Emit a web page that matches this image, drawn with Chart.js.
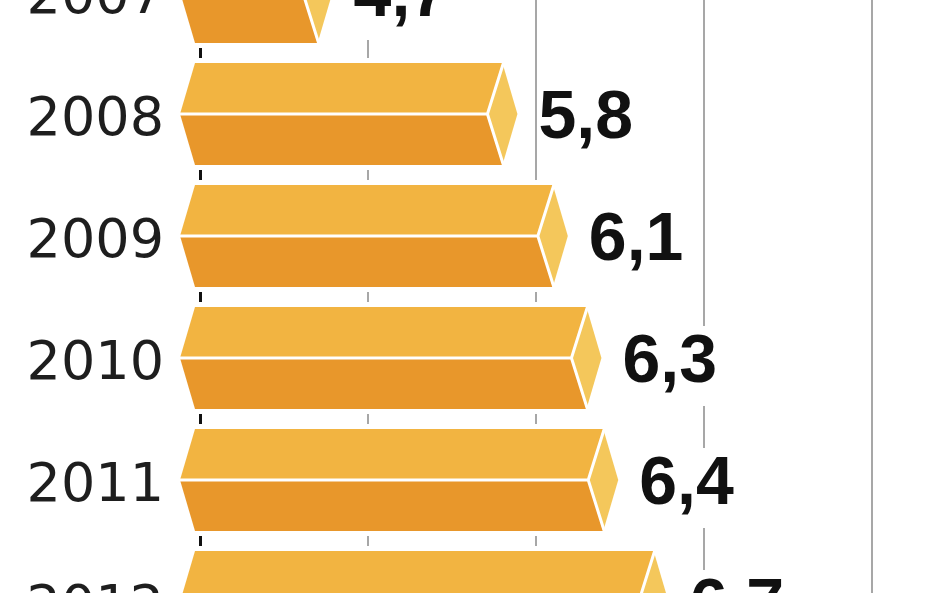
<!DOCTYPE html>
<html>
<head>
<meta charset="utf-8">
<script src="https://cdn.jsdelivr.net/npm/chart.js@4.4.0/dist/chart.umd.min.js"></script>
<style>
  html, body { margin: 0; padding: 0; background: #fff; overflow: hidden; }
  #wrap { position: absolute; left: 0; top: -69px; width: 948px; height: 732px; }
</style>
</head>
<body>
<div id="wrap"><canvas id="chart"></canvas></div>
<script>
const years = ["2007", "2008", "2009", "2010", "2011", "2012"];
const values = [4.7, 5.8, 6.1, 6.3, 6.4, 6.7];
const gridValues = [4, 5, 6, 7, 8];

const topColor = "#F2B441";
const bottomColor = "#E8972B";
const capColor = "#F4C75B";

// draws grid, the prism-like bars and the labels
const barShapes = {
  id: "barShapes",
  beforeDatasetsDraw(chart) {
    const ctx = chart.ctx;
    const xs = chart.scales.x;
    ctx.save();
    gridValues.forEach(v => {
      const x = Math.round(xs.getPixelForValue(v));
      ctx.beginPath();
      if (v === 4) {
        ctx.strokeStyle = "#111";
        ctx.lineWidth = 3;
        ctx.moveTo(x + 0.5, 0);
        ctx.lineTo(x + 0.5, chart.height);
      } else {
        ctx.strokeStyle = "#8a8a8a";
        ctx.lineWidth = 1.5;
        ctx.moveTo(x, 0);
        ctx.lineTo(x, chart.height);
      }
      ctx.stroke();
    });
    ctx.restore();
  },
  afterDatasetsDraw(chart) {
    const ctx = chart.ctx;
    const meta = chart.getDatasetMeta(0);
    const d = 15;
    ctx.save();
    meta.data.forEach((bar, i) => {
      const L = chart.chartArea.left;
      const R = bar.x;
      const T = bar.y - bar.height / 2;
      const B = bar.y + bar.height / 2;
      const M = bar.y;

      // white halo
      ctx.beginPath();
      ctx.moveTo(L + d, T);
      ctx.lineTo(R, T);
      ctx.lineTo(R + d, M);
      ctx.lineTo(R, B);
      ctx.lineTo(L + d, B);
      ctx.lineTo(L, M);
      ctx.closePath();
      ctx.strokeStyle = "#fff";
      ctx.lineWidth = 10;
      ctx.lineJoin = "miter";
      ctx.stroke();
      ctx.fillStyle = "#fff";
      ctx.fill();

      // upper face
      ctx.beginPath();
      ctx.moveTo(L + d, T);
      ctx.lineTo(R, T);
      ctx.lineTo(R - d, M);
      ctx.lineTo(L, M);
      ctx.closePath();
      ctx.fillStyle = topColor;
      ctx.fill();

      // lower face
      ctx.beginPath();
      ctx.moveTo(L, M);
      ctx.lineTo(R - d, M);
      ctx.lineTo(R, B);
      ctx.lineTo(L + d, B);
      ctx.closePath();
      ctx.fillStyle = bottomColor;
      ctx.fill();

      // end cap
      ctx.beginPath();
      ctx.moveTo(R, T);
      ctx.lineTo(R + d, M);
      ctx.lineTo(R, B);
      ctx.lineTo(R - d, M);
      ctx.closePath();
      ctx.fillStyle = capColor;
      ctx.fill();

      // white edges
      ctx.beginPath();
      ctx.moveTo(L, M);
      ctx.lineTo(R - d, M);
      ctx.moveTo(R + 1, T);
      ctx.lineTo(R - d, M);
      ctx.lineTo(R + 1, B);
      ctx.strokeStyle = "#fff";
      ctx.lineWidth = 3;
      ctx.stroke();

      // year label
      ctx.fillStyle = "#1e1e1e";
      ctx.font = "54px 'DejaVu Sans'";
      ctx.textAlign = "right";
      ctx.textBaseline = "alphabetic";
      ctx.fillText(years[i], 164, M + 21);

      // value label with white box behind
      const txt = values[i].toFixed(1).replace(".", ",");
      ctx.font = "bold 68px 'Liberation Sans'";
      ctx.textAlign = "left";
      const tx = R + d + 21;
      const base = M + 24;
      const w = ctx.measureText(txt).width;
      ctx.fillStyle = "#fff";
      ctx.fillRect(tx, base - 56, w + 2, 80);
      ctx.fillStyle = "#111";
      ctx.fillText(txt, tx, base);
    });
    ctx.restore();
  }
};

new Chart(document.getElementById("chart"), {
  type: "bar",
  data: {
    labels: years,
    datasets: [{
      data: values,
      backgroundColor: "rgba(0,0,0,0)",
      borderWidth: 0,
      categoryPercentage: 1,
      barPercentage: 0.836
    }]
  },
  options: {
    indexAxis: "y",
    responsive: true,
    maintainAspectRatio: false,
    animation: false,
    layout: { padding: { left: 180, right: 0, top: 0, bottom: 0 } },
    plugins: { legend: { display: false }, tooltip: { enabled: false } },
    scales: {
      x: {
        type: "linear",
        min: 3.881,
        max: 8.452,
        display: false
      },
      y: {
        display: false
      }
    }
  },
  plugins: [barShapes]
});
</script>
</body>
</html>
